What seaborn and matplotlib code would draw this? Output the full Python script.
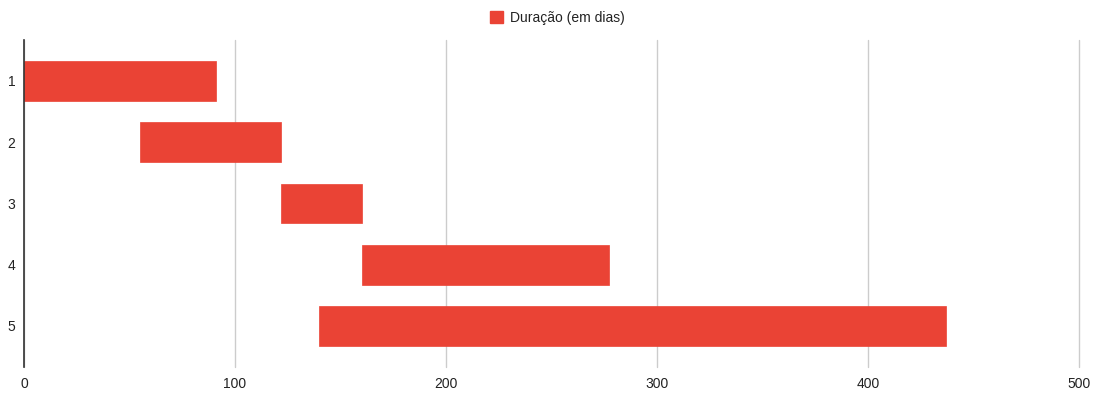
import matplotlib
matplotlib.use("Agg")
import matplotlib.pyplot as plt
import seaborn as sns
import pandas as pd
from matplotlib.patches import Patch

tasks = ["1", "2", "3", "4", "5"]
start = [0, 55, 122, 160, 140]
duration = [91, 67, 38, 117, 297]
x_ticks = [0, 100, 200, 300, 400, 500]
legend_label = "Duração (em dias)"

sns.set_theme(style="white")
plt.rcParams["font.family"] = ["Liberation Sans", "DejaVu Sans"]

df = pd.DataFrame({"task": tasks, "start": start, "duration": duration})

fig = plt.figure(figsize=(10.99, 4.11), dpi=100)
ax = fig.add_axes([0.0218, 0.107, 0.9603, 0.796])

color = "#EA4335"
sns.barplot(data=df, x="duration", y="task", orient="h", color=color,
            width=0.65, ax=ax, saturation=1, edgecolor=color, linewidth=0.5)
for patch, s in zip(ax.patches, df["start"]):
    patch.set_x(s)
    patch.set_zorder(3)

ax.set_xlim(0, 500)
ax.set_ylim(4.67, -0.67)
ax.set_xticks(x_ticks)
ax.set_xticklabels([str(t) for t in x_ticks])
ax.grid(axis="x", color="#cccccc", linewidth=1, zorder=0)
for gl in ax.get_xgridlines():
    gl.set_clip_on(False)
ax.set_axisbelow(True)
for sp in ["top", "right", "bottom"]:
    ax.spines[sp].set_visible(False)
ax.spines["left"].set_color("#333333")
ax.spines["left"].set_linewidth(1.2)
ax.spines["left"].set_zorder(4)
ax.tick_params(axis="both", length=0, labelsize=10, colors="#222222")
ax.tick_params(axis="y", pad=6)
ax.tick_params(axis="x", pad=7)
ax.set_xlabel("")
ax.set_ylabel("")

handle = Patch(facecolor=color, edgecolor=color)
fig.legend(handles=[handle], labels=[legend_label], loc="center",
           bbox_to_anchor=(0.507, 0.957), frameon=False, fontsize=10,
           handlelength=0.9, handleheight=0.9, handletextpad=0.5,
           labelcolor="#222222")

fig.savefig("out.png", dpi=100)
